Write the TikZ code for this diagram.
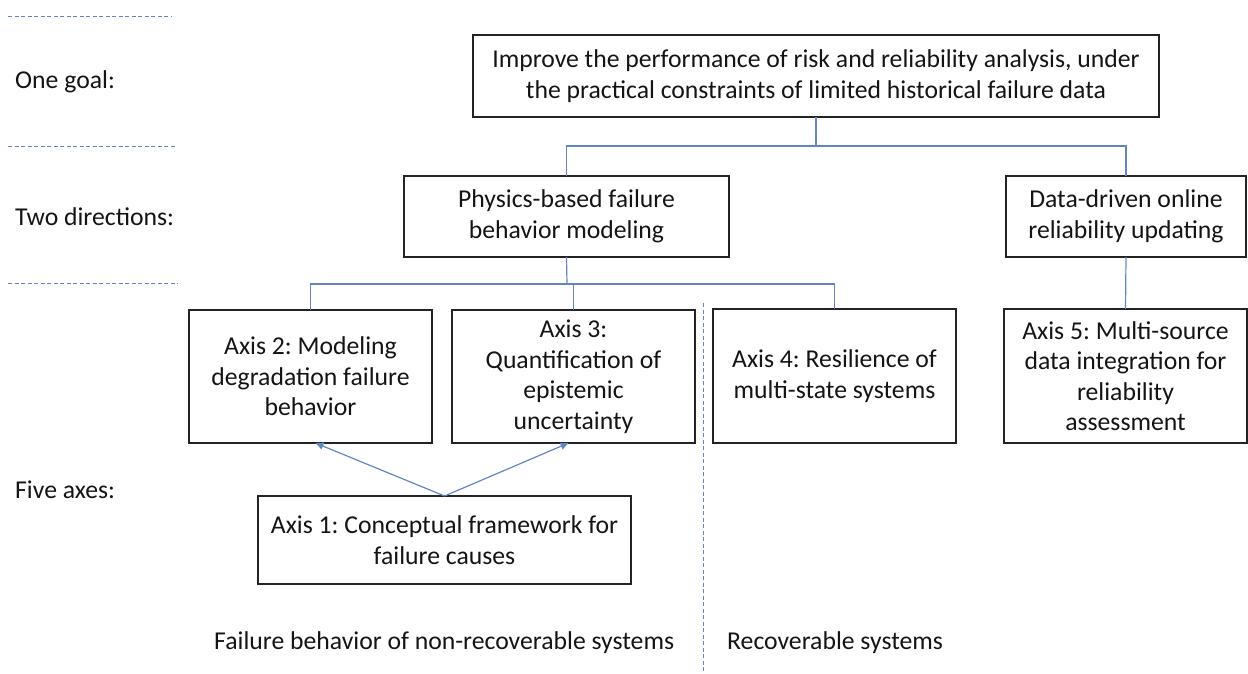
\documentclass[tikz,border=0pt]{standalone}
\usepackage{fontspec}
\setmainfont{Carlito}
\usetikzlibrary{arrows.meta}
\definecolor{conncol}{RGB}{100,134,192}
\definecolor{txtcol}{RGB}{20,20,20}
\definecolor{boxcol}{RGB}{35,35,35}
\tikzset{
  every node/.style={text=txtcol, font=\frenchspacing\fontsize{25.7}{30.5}\selectfont},
  box/.style={draw=boxcol, line width=1.1pt, inner sep=0pt, outer sep=0pt, align=center},
  conn/.style={draw=conncol, line width=1.2pt},
  sep/.style={draw=conncol, line width=1pt, dash pattern=on 4pt off 2.5pt},
  lbl/.style={anchor=west, inner sep=0pt},
}
\begin{document}
\frenchspacing
\begin{tikzpicture}[x=1pt, y=-1pt]
\useasboundingbox (0,0) rectangle (1248,673);
% left separators and labels
\coordinate (s1a) at (8,16);  \coordinate (s1b) at (172,16);
\coordinate (s2a) at (8,146); \coordinate (s2b) at (175,146);
\coordinate (s3a) at (8,283); \coordinate (s3b) at (178,283);
\draw[sep] (s1a) -- (s1b);
\draw[sep] (s2a) -- (s2b);
\draw[sep] (s3a) -- (s3b);
\node[lbl] (lgoal) at (15,82) {One goal:};
\node[lbl] (ldir) at (15,217) {Two directions:};
\node[lbl] (laxes) at (15,490) {Five axes:};
% boxes
\node[box, minimum width=686pt, minimum height=82pt] (goal) at (816,76)
  {\rule{0pt}{4pt}Improve the performance of risk and reliability analysis, under\\the practical constraints of limited historical failure data};
\node[box, minimum width=325pt, minimum height=81pt] (pb) at (566.5,216.5)
  {Physics-based failure\\behavior modeling};
\node[box, minimum width=240pt, minimum height=81pt] (db) at (1126,216.5)
  {Data-driven online\\reliability updating};
\node[box, minimum width=243pt, minimum height=133pt] (ax2) at (310.5,376.5)
  {Axis 2: Modeling\\degradation failure\\behavior};
\node[box, minimum width=243pt, minimum height=133pt] (ax3) at (573.5,376.5)
  {Axis 3:\\Quantification of\\epistemic\\uncertainty};
\node[box, minimum width=243pt, minimum height=134pt] (ax4) at (834.5,376)
  {Axis 4: Resilience of\\multi-state systems};
\node[box, minimum width=243pt, minimum height=134pt] (ax5) at (1125.5,376)
  {Axis 5: Multi-source\\data integration for\\reliability\\assessment};
\node[box, minimum width=373pt, minimum height=88pt] (ax1) at (444.5,540)
  {Axis 1: Conceptual framework for\\failure causes};
% connectors
\coordinate (j1) at (816,146);
\coordinate (j2) at (567,284);
\draw[conn] (goal.south) -- (j1);
\draw[conn] (pb.north) |- (j1) -| (db.north);
\draw[conn] (pb.south) -- (j2);
\draw[conn] (ax2.north) |- (j2) -| (ax4.north);
\draw[conn] (ax3.north) -- (ax3.north |- j2);
\draw[conn] (db.south) -- (ax5.north);
\draw[conn, -{Triangle[length=8pt, width=7pt]}] (ax1.north) -- ([xshift=5pt]ax2.south);
\draw[conn, -{Triangle[length=8pt, width=7pt]}] (ax1.north) -- ([xshift=-5pt]ax3.south);
% vertical divider and bottom labels
\coordinate (va) at (703,303); \coordinate (vb) at (703,673);
\draw[sep] (va) -- (vb);
\node[lbl] (lnonrec) at (214,643) {Failure behavior of non-recoverable systems};
\node[lbl] (lrec) at (727,643) {Recoverable systems};
\end{tikzpicture}
\end{document}
